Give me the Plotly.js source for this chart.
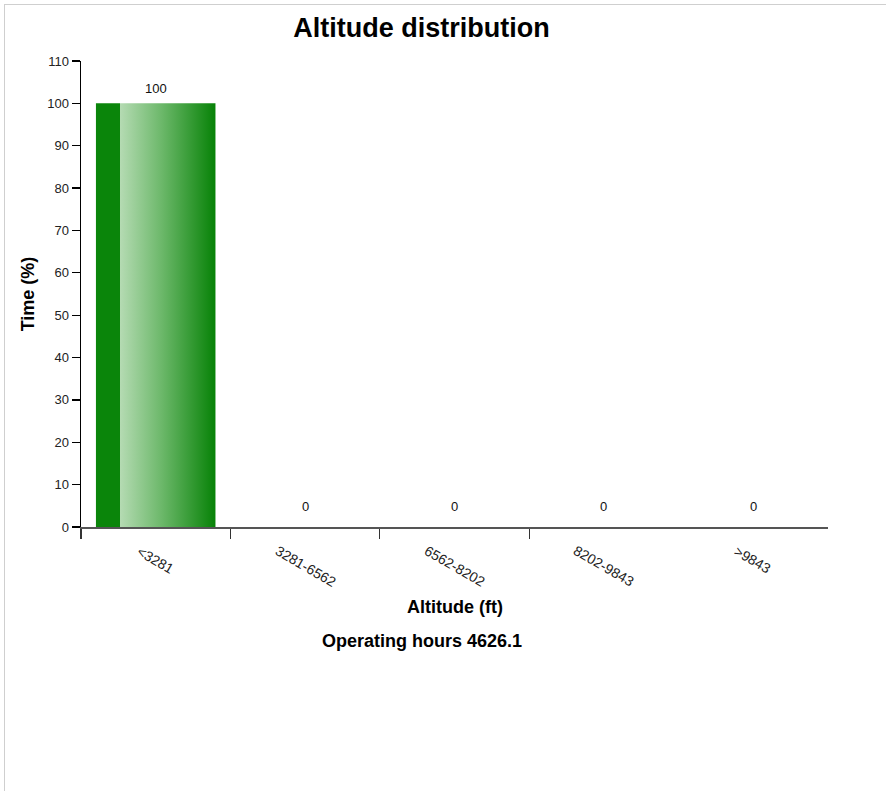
<!DOCTYPE html>
<html>
<head>
<meta charset="utf-8">
<script src="https://cdn.plot.ly/plotly-3.0.1.min.js"></script>
<style>
  html, body { margin: 0; padding: 0; background: #fff; }
  #chart { position: absolute; left: 0; top: 0; width: 886px; height: 791px; }
  #frame { position: absolute; left: 4px; top: 4px; width: 882px; height: 787px;
           border-top: 1px solid #cfcfcf; border-left: 1px solid #cfcfcf; pointer-events: none; }
</style>
</head>
<body>
<div id="chart"></div>
<div id="frame"></div>
<script>
const categories = ["<3281", "3281-6562", "6562-8202", "8202-9843", ">9843"];
const timePercent = [100, 0, 0, 0, 0];
const yTickValues = [0, 10, 20, 30, 40, 50, 60, 70, 80, 90, 100, 110];
const chartTitle = "Altitude distribution";
const xTitle = "Altitude (ft)";
const yTitle = "Time (%)";
const footnote = "Operating hours 4626.1";

const FONT = "Liberation Sans, Arial, sans-serif";
const idx = categories.map((c, i) => i);
const boundaries = categories.slice(0, -1).map((c, i) => i - 0.5);

const trace = {
  type: "bar",
  x: idx,
  y: timePercent,
  marker: { color: "#0a850a", line: { width: 0 } },
  hoverinfo: "skip"
};

const annotations = [];
categories.forEach((c, i) => {
  annotations.push({
    xref: "x", yref: "paper", x: i, y: 0,
    text: c, showarrow: false, textangle: 30,
    xanchor: "center", yanchor: "top", yshift: -13,
    font: { family: FONT, size: 14, color: "#222" }
  });
  annotations.push({
    xref: "x", yref: "y", x: i, y: timePercent[i],
    text: String(timePercent[i]), showarrow: false,
    xanchor: "center", yanchor: "bottom", yshift: timePercent[i] === 0 ? 11 : 5,
    font: { family: FONT, size: 13, color: "#111" }
  });
});
annotations.push({
  xref: "paper", yref: "paper", x: 0.5, y: 0, yshift: -80,
  xanchor: "center", yanchor: "middle",
  text: "<b>" + xTitle + "</b>", showarrow: false,
  font: { family: FONT, size: 18, color: "#000" }
});
annotations.push({
  xref: "paper", yref: "paper", x: (421.5 - 81) / 747, y: 0, yshift: -114,
  xanchor: "center", yanchor: "middle",
  text: "<b>" + footnote + "</b>", showarrow: false,
  font: { family: FONT, size: 18, color: "#000" }
});

const layout = {
  width: 886, height: 791,
  margin: { l: 81, r: 58, t: 61, b: 264 },
  paper_bgcolor: "#fff", plot_bgcolor: "#fff",
  showlegend: false,
  bargap: 0.2,
  title: {
    text: "<b>" + chartTitle + "</b>",
    x: 421.5 / 886, xref: "container", xanchor: "center",
    y: 1 - 28 / 791, yref: "container", yanchor: "middle",
    font: { family: FONT, size: 27, color: "#000" }
  },
  xaxis: {
    type: "linear", range: [-0.5, categories.length - 0.5],
    showgrid: false, zeroline: false,
    showline: true, linecolor: "#555", linewidth: 1.5,
    tickmode: "array", tickvals: boundaries, ticktext: boundaries.map(() => ""),
    ticks: "outside", ticklen: 10, tickwidth: 1.2, tickcolor: "#333",
    showticklabels: false, fixedrange: true
  },
  yaxis: {
    range: [0, 110], showgrid: false, zeroline: false,
    showline: true, linecolor: "#000", linewidth: 1.5,
    tickmode: "array", tickvals: yTickValues,
    ticks: "outside", ticklen: 8, tickwidth: 1.2, tickcolor: "#000",
    tickfont: { family: FONT, size: 13, color: "#222" },
    title: { text: "<b>" + yTitle + "</b>", standoff: 8, font: { family: FONT, size: 18, color: "#000" } },
    fixedrange: true
  },
  annotations: annotations
};

Plotly.newPlot("chart", [trace], layout, { displayModeBar: false, staticPlot: true }).then(gd => {
  const svg = gd.querySelector("svg.main-svg");
  const ns = "http://www.w3.org/2000/svg";
  let defs = svg.querySelector("defs");
  if (!defs) { defs = document.createElementNS(ns, "defs"); svg.insertBefore(defs, svg.firstChild); }
  const grad = document.createElementNS(ns, "linearGradient");
  grad.setAttribute("id", "barGrad");
  grad.setAttribute("x1", "0"); grad.setAttribute("y1", "0");
  grad.setAttribute("x2", "1"); grad.setAttribute("y2", "0");
  const stops = [["0", "#0a850a"], ["0.2", "#0a850a"], ["0.2", "#b5dbb3"], ["0.55", "#6cb86a"], ["1", "#078207"]];
  stops.forEach(([o, c]) => {
    const s = document.createElementNS(ns, "stop");
    s.setAttribute("offset", o); s.setAttribute("stop-color", c);
    grad.appendChild(s);
  });
  defs.appendChild(grad);
  gd.querySelectorAll(".bars .point path").forEach(p => { p.style.fill = "url(#barGrad)"; });
});
</script>
</body>
</html>
